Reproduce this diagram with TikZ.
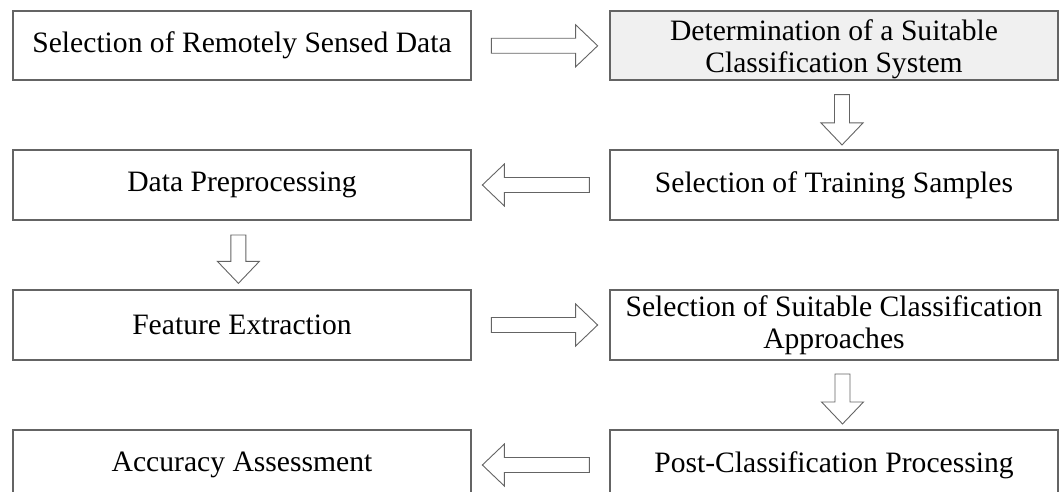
\documentclass[tikz,border=0pt]{standalone}
\usepackage{fontspec}
\setmainfont{Liberation Serif}
\usetikzlibrary{calc}

\definecolor{edgegray}{RGB}{100,100,100}
\definecolor{boxgray}{RGB}{240,240,240}

\tikzset{
  stagebox/.style={draw=edgegray, line width=1.3pt, rectangle, inner sep=0pt,
    minimum height=#1, align=center,
    font=\fontsize{29.6pt}{32.5pt}\selectfont},
  leftcol/.style={stagebox=#1, minimum width=458pt},
  rightcol/.style={stagebox=#1, minimum width=448pt},
  arrowline/.style={draw=edgegray, line width=0.9pt, fill=white, line join=miter},
  % hollow block arrow pointing along +x, of length #1
  pics/blockarrow/.style={code={
    \draw[arrowline] (0,-7.5) -- ({#1-22},-7.5) -- ({#1-22},-21) -- (#1,0)
      -- ({#1-22},21) -- ({#1-22},7.5) -- (0,7.5) -- cycle;}}
}

\begin{document}
\begin{tikzpicture}[x=1pt, y=-1pt]
\useasboundingbox (0,0) rectangle (1059,492);
\clip (0,0) rectangle (1059,492);

% stages of the classification workflow
\node[leftcol=69pt]  (sel)  at (242,45.5) {Selection of Remotely Sensed Data};
\node[rightcol=69pt, fill=boxgray] (det) at (834,45.5) {};
\node[align=center, font=\fontsize{29.6pt}{32.5pt}\selectfont, inner sep=0pt]
  (dettext) at ([yshift=-4pt]det.center) {Determination of a Suitable\\Classification System};
\node[rightcol=70pt] (train) at (834,185) {Selection of Training Samples};
\node[leftcol=70pt]  (prep)  at (242,185) {Data Preprocessing};
\node[leftcol=70pt]  (feat)  at (242,325) {Feature Extraction};
\node[rightcol=70pt] (appr)  at (834,325) {Selection of Suitable Classification\\Approaches};
\node[rightcol=70pt] (post)  at (834,465) {Post-Classification Processing};
\node[leftcol=70pt]  (acc)   at (242,465) {Accuracy Assessment};

% hollow arrows between the stages
\pic at ($(sel.east)+(19.7,0.3)$) {blockarrow=106.3};
\pic[rotate=-90] at ($(det.south)+(8,14)$) {blockarrow=50.3};
\pic[rotate=180] at ($(train.west)+(-20,0)$) {blockarrow=107};
\pic[rotate=-90] at ($(prep.south)+(-3.6,14.3)$) {blockarrow=48.4};
\pic at ($(feat.east)+(19.7,0)$) {blockarrow=106.3};
\pic[rotate=-90] at ($(appr.south)+(8.5,13.3)$) {blockarrow=50};
\pic[rotate=180] at ($(post.west)+(-20,0)$) {blockarrow=107};
\end{tikzpicture}
\end{document}
